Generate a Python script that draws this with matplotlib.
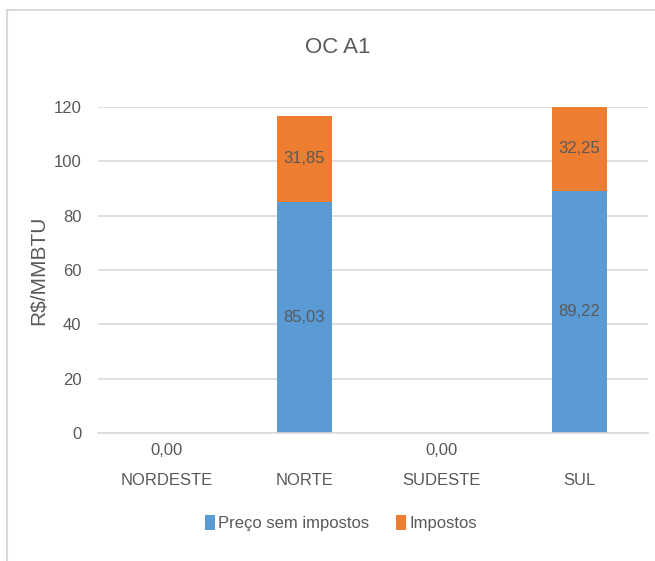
import matplotlib.pyplot as plt
from matplotlib.patches import Rectangle

# Data
regioes = ['NORDESTE', 'NORTE', 'SUDESTE', 'SUL']
preco_sem_impostos = [0.00, 85.03, 0.00, 89.22]
impostos = [0.00, 31.85, 0.00, 32.25]

plt.rcParams['font.family'] = ['Liberation Sans', 'DejaVu Sans']

txt_color = '#595959'
blue = '#5b9bd5'
orange = '#ed7d31'
ymax = 120

fig = plt.figure(figsize=(6.55, 5.61), dpi=100)
ax = fig.add_axes([0.150, 0.228, 0.839, 0.581])

x = range(len(regioes))
ax.bar(x, preco_sem_impostos, width=0.4, color=blue, label='Preço sem impostos', zorder=2)
ax.bar(x, impostos, width=0.4, bottom=preco_sem_impostos, color=orange, label='Impostos', zorder=2)

# Data labels
for i in x:
    p = preco_sem_impostos[i]
    t = impostos[i]
    if p == 0 and t == 0:
        ax.annotate('0,00', (i, 0), xytext=(0, -12.5), textcoords='offset points',
                    ha='center', va='center', fontsize=12, color=txt_color)
        continue
    ax.text(i, p / 2, f'{p:.2f}'.replace('.', ','), ha='center', va='center',
            fontsize=12, color=txt_color, zorder=3)
    top = min(p + t, ymax)
    ax.text(i, (p + top) / 2, f'{t:.2f}'.replace('.', ','), ha='center', va='center',
            fontsize=12, color=txt_color, zorder=3)

ax.set_ylim(0, ymax)
ax.set_xlim(-0.5, len(regioes) - 0.5)
ax.set_yticks(range(0, 121, 20))
ax.set_xticks(list(x))
ax.set_xticklabels(regioes)
ax.tick_params(axis='both', length=0, labelsize=12, labelcolor=txt_color)
ax.tick_params(axis='x', pad=29)
ax.tick_params(axis='y', pad=12)
ax.grid(axis='y', color='#d9d9d9', linewidth=1.2, zorder=0)
ax.set_axisbelow(True)
for s in ['top', 'right', 'left']:
    ax.spines[s].set_visible(False)
ax.spines['bottom'].set_color('#d9d9d9')
ax.spines['bottom'].set_linewidth(1.2)

ax.set_ylabel('R$/MMBTU', fontsize=15, color=txt_color, labelpad=4)
fig.text(0.515, 0.915, 'OC A1', ha='center', va='center', fontsize=16, color=txt_color)

leg = fig.legend(loc='center', bbox_to_anchor=(0.52, 0.068), ncol=2, frameon=False,
                 fontsize=12, handlelength=0.6, handleheight=1.0, handletextpad=0.2,
                 columnspacing=1.6)
for t in leg.get_texts():
    t.set_color(txt_color)

# outer chart border
fig.patches.append(Rectangle((7 / 655, -0.02), 1.05, 1 - 10 / 561 + 0.02,
                             transform=fig.transFigure, fill=False,
                             edgecolor='#d9d9d9', linewidth=1.5))

fig.savefig('out.png', dpi=100)
